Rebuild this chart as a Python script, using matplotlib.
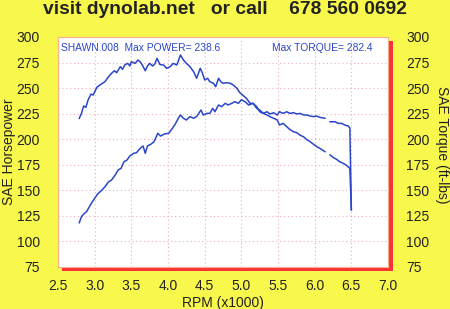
import matplotlib
matplotlib.use("Agg")
import matplotlib.pyplot as plt
from matplotlib.patches import Rectangle
import numpy as np

plt.rcParams['font.family'] = ['Liberation Sans', 'DejaVu Sans']

# dyno run (rpm in thousands)
rpm_tq = [2.79, 2.82, 2.85, 2.88, 2.91, 2.95, 2.98, 3.03, 3.07, 3.14,
          3.19, 3.23, 3.27, 3.30, 3.35, 3.38, 3.41, 3.45, 3.48, 3.50,
          3.55, 3.59, 3.62, 3.65, 3.69, 3.72, 3.75, 3.79, 3.82, 3.85,
          3.89, 3.94, 3.98, 4.03, 4.07, 4.12, 4.17, 4.21, 4.25, 4.30,
          4.35, 4.39, 4.44, 4.47, 4.50, 4.54, 4.57, 4.62, 4.65, 4.69,
          4.72, 4.75, 4.80, 4.85, 4.89, 4.94, 4.98, 5.03, 5.07, 5.12,
          5.16, 5.21, 5.25, 5.30, 5.35, 5.39, 5.44, 5.49, 5.52, 5.57,
          5.62, 5.66, 5.71, 5.76, 5.80, 5.85, 5.89, 5.94, 5.98, 6.03,
          6.07, 6.14, 6.17, 6.21, 6.25, 6.30, 6.34, 6.39, 6.43, 6.48,
          6.50]
torque = [220.4, 225.3, 232.5, 231.2, 238.4, 244.2, 243.2, 250.8, 253.0, 256.3,
          261.2, 264.5, 267.0, 265.1, 271.0, 268.4, 272.6, 274.2, 271.6, 275.8,
          274.2, 277.5, 275.8, 272.6, 267.0, 271.6, 274.2, 271.6, 273.6, 279.1,
          273.0, 272.6, 269.4, 271.0, 274.2, 272.6, 282.4, 277.5, 274.2, 271.0,
          266.0, 259.6, 269.4, 264.5, 258.0, 259.6, 256.3, 254.7, 251.4, 259.6,
          256.3, 254.7, 255.3, 254.7, 253.0, 249.8, 245.5, 242.5, 240.0, 235.0,
          235.1, 230.2, 228.6, 225.3, 223.7, 222.1, 220.5, 218.8, 213.9, 215.5,
          212.2, 209.6, 207.3, 206.3, 204.0, 202.3, 199.8, 197.5, 195.3, 192.7,
          191.1, 187.8, np.nan, 184.6, 182.3, 180.3, 178.0, 176.4, 174.7, 171.5,
          131.0]

rpm_hp = [2.79, 2.82, 2.86, 2.89, 2.94, 2.97, 3.00, 3.04, 3.10, 3.14,
          3.19, 3.23, 3.28, 3.32, 3.36, 3.40, 3.44, 3.48, 3.53, 3.57,
          3.62, 3.66, 3.69, 3.72, 3.77, 3.81, 3.86, 3.90, 3.95, 4.01,
          4.06, 4.10, 4.14, 4.17, 4.21, 4.25, 4.30, 4.35, 4.39, 4.45,
          4.48, 4.53, 4.57, 4.61, 4.64, 4.69, 4.73, 4.78, 4.82, 4.87,
          4.91, 4.96, 5.00, 5.05, 5.10, 5.16, 5.21, 5.25, 5.30, 5.35,
          5.39, 5.44, 5.49, 5.52, 5.57, 5.62, 5.66, 5.71, 5.76, 5.80,
          5.85, 5.89, 5.94, 5.98, 6.03, 6.07, 6.14, 6.17, 6.21, 6.28,
          6.32, 6.37, 6.41, 6.46, 6.48, 6.50]
power = [118.3, 124.2, 127.5, 129.1, 135.6, 138.9, 142.2, 146.4, 150.3, 153.5,
         158.4, 160.1, 165.0, 169.9, 171.5, 178.0, 179.6, 183.6, 186.2, 186.8,
         191.1, 193.4, 186.2, 193.4, 195.3, 197.6, 205.8, 203.1, 205.1, 205.8,
         210.7, 214.9, 220.5, 223.7, 220.5, 218.8, 222.1, 220.5, 222.1, 228.6,
         223.7, 225.3, 225.3, 230.2, 226.9, 233.5, 231.8, 235.1, 233.5, 235.1,
         236.7, 235.1, 238.6, 236.7, 233.5, 235.1, 231.8, 226.9, 225.3, 226.9,
         224.7, 225.9, 223.7, 226.9, 225.3, 226.9, 225.3, 225.9, 224.7, 225.3,
         223.7, 223.7, 222.7, 222.1, 222.7, 221.4, 220.5, np.nan, 217.1, 217.1,
         215.5, 215.5, 213.9, 212.9, 210.7, 131.0]

x_ticks = [2.5, 3.0, 3.5, 4.0, 4.5, 5.0, 5.5, 6.0, 6.5, 7.0]
y_ticks = [75, 100, 125, 150, 175, 200, 225, 250, 275, 300]

W, H = 450, 309
fig = plt.figure(figsize=(W / 100, H / 100), dpi=100, facecolor='#f8f84c')

# plot area in pixels
left, right, top, bottom = 58, 388, 37, 267
ax = fig.add_axes([left / W, 1 - bottom / H, (right - left) / W, (bottom - top) / H])
ax.set_facecolor('white')
ax.set_zorder(2)

# red drop shadow behind the plot area
fig.patches.append(Rectangle(((left + 4) / W, 1 - (bottom + 4) / H),
                             (right - left + 1) / W, (bottom - top) / H,
                             transform=fig.transFigure, facecolor='#fa3434',
                             edgecolor='none', zorder=0))

blue = '#2a46c8'
ax.plot(rpm_tq, torque, color=blue, lw=1.1)
ax.plot(rpm_hp, power, color=blue, lw=1.1)

ax.set_xlim(2.5, 7.0)
ax.set_ylim(75, 300)
ax.set_xticks(x_ticks, [f"{v:.1f}" for v in x_ticks])
ax.set_yticks(y_ticks)
ax.grid(True, color='#f2a8c0', lw=0.8, ls=(0, (1, 2.5)))
ax.tick_params(length=0, labelsize=10, colors='#222222')
ax.tick_params(axis='y', labelright=True, right=False, pad=13)
ax.tick_params(axis='x', pad=9)
for s in ax.spines.values():
    s.set_color('#f6b090')
    s.set_linewidth(0.8)

ax.text(0.008, 0.975, "SHAWN.008  Max POWER= 238.6", transform=ax.transAxes,
        color=blue, fontsize=7.4, va='top', ha='left')
ax.text(0.648, 0.975, "Max TORQUE= 282.4", transform=ax.transAxes,
        color=blue, fontsize=7.4, va='top', ha='left')

fig.text(225 / W, 1 - 10 / H, "visit dynolab.net   or call    678 560 0692",
         ha='center', va='center', fontsize=13.9, fontweight='bold', color='#222222')
fig.text(9 / W, 1 - 152 / H, "SAE Horsepower", rotation=90,
         ha='center', va='center', fontsize=10, color='#222222')
fig.text(442 / W, 1 - 145 / H, "SAE Torque (ft-lbs)", rotation=270,
         ha='center', va='center', fontsize=10, color='#222222')
fig.text(223 / W, 1 - 303 / H, "RPM (x1000)",
         ha='center', va='center', fontsize=10, color='#222222')

fig.savefig("out.png", dpi=100, facecolor=fig.get_facecolor())
